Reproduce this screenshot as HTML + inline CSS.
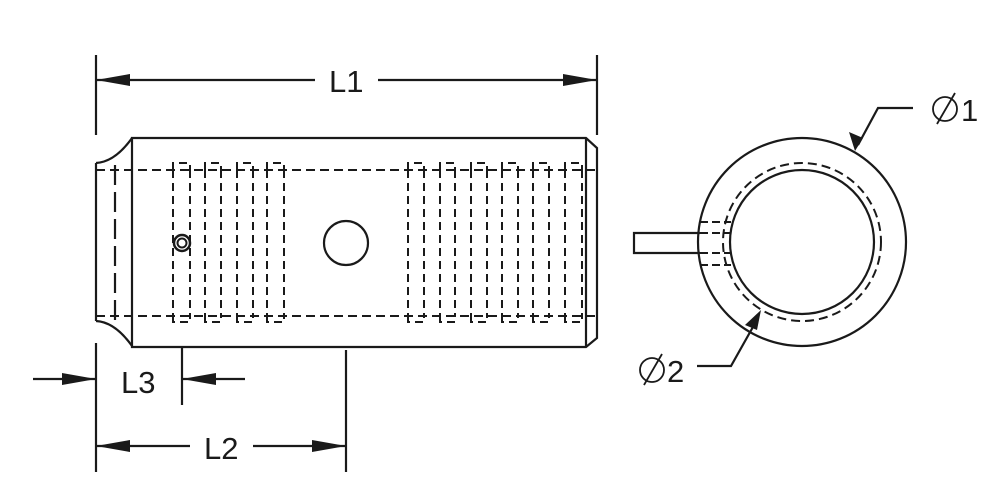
<!DOCTYPE html>
<html><head><style>html,body{margin:0;padding:0;background:#fff;}svg{display:block}</style></head><body>
<svg width="1000" height="500" viewBox="0 0 1000 500" xmlns="http://www.w3.org/2000/svg" font-family="Liberation Sans, sans-serif">
<g stroke="#1a1a1a" fill="none" stroke-width="2.2">
<!-- body -->
<path d="M132 138 H586 L597 148 V338 L586 347 H132 Z"/>
<line x1="586" y1="138" x2="586" y2="347"/>
<path d="M96 163 V321"/>
<path d="M96 163 Q115 162 132 138"/>
<path d="M96 321 Q115 322 132 346"/>
<line x1="115" y1="165" x2="115" y2="320" stroke-dasharray="20 7"/>
<!-- dashed horizontal lines -->
<g stroke-dasharray="9 5" stroke-width="2">
<line x1="96" y1="170" x2="597" y2="170"/><line x1="96" y1="316" x2="597" y2="316"/>
</g>
<g stroke-dasharray="8 5" stroke-width="2">
<path d="M173 170 V163 H190 V170 M173 170 V316 M190 170 V316 M173 316 V322 H190 V316"/>
<path d="M205 170 V163 H221 V170 M205 170 V316 M221 170 V316 M205 316 V322 H221 V316"/>
<path d="M237 170 V163 H253 V170 M237 170 V316 M253 170 V316 M237 316 V322 H253 V316"/>
<path d="M267 170 V163 H284 V170 M267 170 V316 M284 170 V316 M267 316 V322 H284 V316"/>
<path d="M408 170 V163 H424 V170 M408 170 V316 M424 170 V316 M408 316 V322 H424 V316"/>
<path d="M440 170 V163 H455 V170 M440 170 V316 M455 170 V316 M440 316 V322 H455 V316"/>
<path d="M471 170 V163 H487 V170 M471 170 V316 M487 170 V316 M471 316 V322 H487 V316"/>
<path d="M502 170 V163 H518 V170 M502 170 V316 M518 170 V316 M502 316 V322 H518 V316"/>
<path d="M533 170 V163 H549 V170 M533 170 V316 M549 170 V316 M533 316 V322 H549 V316"/>
<path d="M565 170 V163 H582 V170 M565 170 V316 M582 170 V316 M565 316 V322 H582 V316"/>
</g>
<circle cx="182" cy="243" r="8" fill="#fff" stroke-width="2.5"/>
<circle cx="182" cy="243" r="4.5" stroke-width="2"/>
<circle cx="346" cy="243" r="22"/>
<!-- end view -->
<circle cx="802" cy="242" r="104"/>
<circle cx="802" cy="242" r="72"/>
<circle cx="802" cy="242" r="79" stroke-dasharray="9 5" stroke-width="2"/>
<path d="M700 233 H634 V253 H700"/>
<g stroke-dasharray="8 4" stroke-width="2">
<line x1="700" y1="222" x2="731" y2="222"/><line x1="700" y1="265" x2="731" y2="265"/>
<line x1="700" y1="233" x2="731" y2="233"/><line x1="700" y1="253" x2="731" y2="253"/>
</g>
<!-- leaders -->
<path d="M913 108 H878 L858 145"/>
<path d="M697 366 H731 L758 318"/>
<!-- dimensions -->
<line x1="96" y1="55" x2="96" y2="135"/><line x1="597" y1="55" x2="597" y2="135"/>
<line x1="96" y1="80" x2="315" y2="80"/><line x1="378" y1="80" x2="597" y2="80"/>
<line x1="96" y1="343" x2="96" y2="472"/><line x1="182" y1="348" x2="182" y2="405"/>
<line x1="346" y1="350" x2="346" y2="472"/>
<line x1="33" y1="379" x2="96" y2="379"/><line x1="182" y1="379" x2="245" y2="379"/>
<line x1="96" y1="446" x2="190" y2="446"/><line x1="253" y1="446" x2="346" y2="446"/>
<!-- diameter symbols -->
<g stroke-width="1.8">
<circle cx="945" cy="109" r="12"/><line x1="937" y1="124" x2="955" y2="93"/>
<circle cx="652" cy="370" r="12"/><line x1="644" y1="385" x2="662" y2="354"/>
</g>
</g>
<g fill="#1a1a1a">
<polygon points="96,80 130,74 130,86"/><polygon points="597,80 563,74 563,86"/>
<polygon points="96,379 62,373 62,385"/><polygon points="182,379 216,373 216,385"/>
<polygon points="96,446 130,440 130,452"/><polygon points="346,446 312,440 312,452"/>
<polygon points="855,151 849,132 863,138"/>
<polygon points="761,310 757,330 745,325"/>
</g>
<g fill="#1a1a1a" font-size="31">
<text x="329" y="92">L1</text>
<text x="121" y="393">L3</text>
<text x="204" y="459">L2</text>
<text x="961" y="121">1</text>
<text x="667" y="382">2</text>
</g>
</svg>
</body></html>
